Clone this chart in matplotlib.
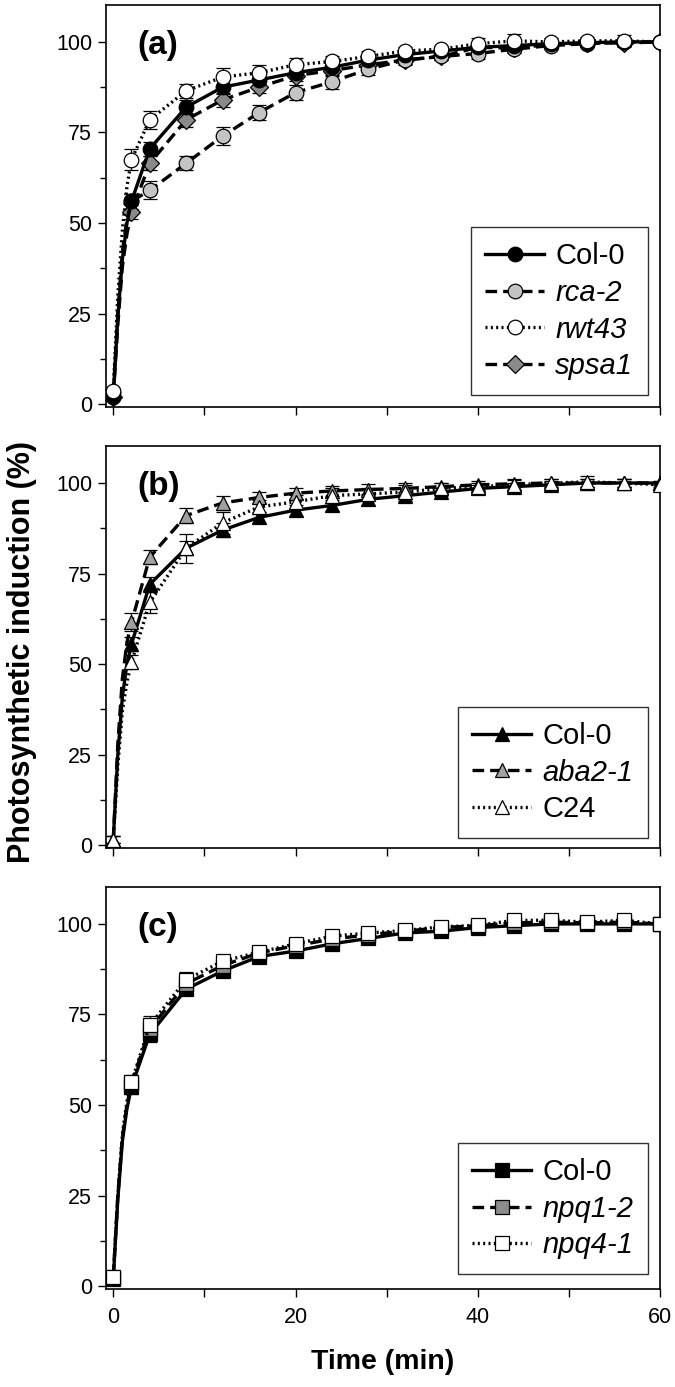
import numpy as np
import matplotlib
matplotlib.use("Agg")
import matplotlib.pyplot as plt

plt.rcParams['font.family'] = ['Liberation Sans', 'DejaVu Sans']

# sampling times of the markers (min) and a few extra trace points early on
t_mark = [0, 2, 4, 8, 12, 16, 20, 24, 28, 32, 36, 40, 44, 48, 52, 56, 60]
t_early = [0.5, 1.0, 1.5]

# panel (a)
a_col0 = [2, 56, 70.5, 82, 87.5, 89.5, 91.5, 93, 95, 96.5, 97.5, 98.5, 99, 99.5, 99.8, 100, 100]
a_col0_early = [24, 40, 50]
a_col0_err = [1, 2, 2, 2, 2, 1.5, 1.5, 1.5, 1.5, 1, 1, 1, 1, 1, 1, 1, 0.5]
a_rca2 = [3, 56, 59, 66.5, 74, 80.5, 86, 89, 92.5, 95, 96, 96.8, 98, 99, 99.5, 100, 100]
a_rca2_early = [25, 42, 51]
a_rca2_err = [1, 2, 2.5, 2, 2.5, 2, 2, 2, 1.5, 1.5, 1, 1.5, 1, 1, 1, 1, 0.5]
a_rwt43 = [3.5, 67.5, 78.5, 86.5, 90.3, 91.5, 93.7, 94.6, 96, 97.5, 98, 99.5, 100.3, 100, 100.3, 100.3, 100]
a_rwt43_early = [30, 48, 60]
a_rwt43_err = [1, 3, 2.5, 2, 2.5, 2, 2, 1.5, 1.5, 1, 1, 1.5, 2, 1, 1, 1.5, 0.5]
a_spsa1 = [2, 53, 66.5, 78.5, 84, 87.5, 90.7, 92.1, 93.7, 95, 96, 98.5, 98.3, 99.3, 99.7, 99.7, 100]
a_spsa1_early = [22, 38, 47]
a_spsa1_err = [1, 2, 2, 2, 2, 1.5, 1.5, 1.5, 1.5, 1, 1, 1, 1, 1, 1, 1, 0.5]

# panel (b)
b_col0 = [1.5, 55.5, 72, 82, 87, 90.5, 92.5, 93.8, 95.5, 96.5, 97.5, 98.5, 99, 99.5, 100, 100, 100]
b_col0_early = [25, 41, 50]
b_col0_err = [1, 2, 2, 2, 2, 1.5, 1.5, 1.5, 1.5, 1, 1, 1, 1, 1, 1, 1, 0.5]
b_aba21 = [1.5, 61.5, 79.5, 91, 94.5, 96, 97.2, 97.8, 98.2, 98.5, 99, 99.5, 99.8, 100, 100, 100, 100]
b_aba21_early = [28, 46, 56]
b_aba21_err = [1, 2.5, 2, 2, 2, 1.5, 1.5, 1.5, 1.5, 1, 1, 1, 1, 1, 1, 1, 0.5]
b_c24 = [1.5, 50.5, 67, 82, 89, 93.4, 94.8, 96.5, 97, 97.5, 98.5, 99, 99.5, 100, 100.3, 100, 99.5]
b_c24_early = [22, 37, 45]
b_c24_err = [1, 2, 3, 4, 3, 2, 2, 2, 1.5, 2.5, 1.5, 1, 1.5, 1, 1.5, 1, 0.5]

# panel (c)
c_col0 = [2, 55, 69.5, 82, 87, 91, 92.5, 94.5, 96, 97.5, 98, 99, 99.5, 100, 100, 100, 100]
c_col0_early = [24, 40, 49]
c_col0_err = [1, 2, 2, 1.5, 1.5, 1.5, 1.5, 1, 1, 1, 1, 1, 1, 1, 1, 1, 0.5]
c_npq12 = [2.5, 56, 71, 83.5, 88.5, 92, 94, 95.8, 97, 98, 99, 99.5, 100.3, 100.5, 100.3, 100.5, 100]
c_npq12_early = [25, 41, 50]
c_npq12_err = [1, 2, 2, 1.5, 1.5, 1.5, 1.5, 1, 1, 1, 1, 1, 1, 1, 1, 1, 0.5]
c_npq41 = [2.5, 56.3, 72, 84.6, 89.7, 92.2, 94.5, 96.6, 97.5, 98.2, 99.2, 99.6, 101, 101, 100.5, 101, 100]
c_npq41_early = [25, 42, 51]
c_npq41_err = [1, 2, 2.5, 2, 1.5, 1.5, 1.5, 1.5, 1, 1, 1, 1, 1, 1, 1, 1, 0.5]

fig = plt.figure(figsize=(6.75, 13.87), dpi=100)

left, width, height = 0.157, 0.821, 0.2898
bottoms = [0.7066, 0.3886, 0.0707]


def draw_series(ax, vals, early, err, label, ls, marker, face, ms=10.5):
    t_line = [t_mark[0]] + t_early + t_mark[1:]
    v_line = [vals[0]] + early + vals[1:]
    mark_idx = [0] + list(range(len(t_early) + 1, len(t_line)))
    kw = dict(color='black', lw=2.4, marker=marker, markersize=ms,
              markerfacecolor=face, markeredgecolor='black', markeredgewidth=0.9,
              markevery=mark_idx, label=label, zorder=3)
    if ls == 'dashed':
        kw['dashes'] = (3.5, 1.8)
    elif ls == 'dotted':
        kw['dashes'] = (0.6, 1.0)
    ax.errorbar(t_mark, vals, yerr=err, fmt='none', ecolor='black',
                elinewidth=0.9, capsize=5, capthick=0.9, zorder=2)
    ax.plot(t_line, v_line, **kw)


def style_axes(ax, letter, show_x):
    ax.set_xlim(-0.8, 60)
    ax.set_ylim(-0.8, 110.2)
    ax.set_yticks([0, 25, 50, 75, 100])
    ax.set_yticks([12.5, 37.5, 62.5, 87.5], minor=True)
    ax.set_xticks([0, 10, 20, 30, 40, 50, 60])
    if show_x:
        ax.set_xticklabels(['0', '', '20', '', '40', '', '60'])
    else:
        ax.set_xticklabels([])
    ax.tick_params(axis='both', which='major', direction='out', length=6,
                   width=1.0, labelsize=15.5, pad=4)
    ax.tick_params(axis='x', which='major', pad=7)
    ax.tick_params(axis='y', which='minor', direction='out', length=4, width=1.0)
    for sp in ax.spines.values():
        sp.set_linewidth(1.2)
    ax.text(0.056, 0.90, letter, transform=ax.transAxes, fontsize=24,
            fontweight='bold', va='center', ha='left')


def make_legend(ax, names, anchor, italic_idx):
    h, l = ax.get_legend_handles_labels()
    handles = [h[l.index(n)] for n in names]
    leg = ax.legend(handles, names, loc='lower right', bbox_to_anchor=anchor,
                    fontsize=21, frameon=True, fancybox=False, edgecolor='black',
                    handlelength=2.0, handletextpad=0.4, labelspacing=0.3,
                    borderpad=0.5, borderaxespad=0.0, numpoints=1)
    leg.get_frame().set_linewidth(1.0)
    for i in italic_idx:
        leg.get_texts()[i].set_fontstyle('italic')


ax_a = fig.add_axes([left, bottoms[0], width, height])
draw_series(ax_a, a_spsa1, a_spsa1_early, a_spsa1_err, 'spsa1', 'dashed', 'D', '#8a8a8a', 9.5)
draw_series(ax_a, a_rca2, a_rca2_early, a_rca2_err, 'rca-2', 'dashed', 'o', '#c4c4c4')
draw_series(ax_a, a_col0, a_col0_early, a_col0_err, 'Col-0', 'solid', 'o', 'black')
draw_series(ax_a, a_rwt43, a_rwt43_early, a_rwt43_err, 'rwt43', 'dotted', 'o', 'white')
style_axes(ax_a, '(a)', False)
make_legend(ax_a, ['Col-0', 'rca-2', 'rwt43', 'spsa1'], (0.978, 0.03), [1, 2, 3])

ax_b = fig.add_axes([left, bottoms[1], width, height])
draw_series(ax_b, b_col0, b_col0_early, b_col0_err, 'Col-0', 'solid', '^', 'black')
draw_series(ax_b, b_aba21, b_aba21_early, b_aba21_err, 'aba2-1', 'dashed', '^', '#a0a0a0')
draw_series(ax_b, b_c24, b_c24_early, b_c24_err, 'C24', 'dotted', '^', 'white')
style_axes(ax_b, '(b)', False)
make_legend(ax_b, ['Col-0', 'aba2-1', 'C24'], (0.978, 0.025), [1])

ax_c = fig.add_axes([left, bottoms[2], width, height])
draw_series(ax_c, c_col0, c_col0_early, c_col0_err, 'Col-0', 'solid', 's', 'black')
draw_series(ax_c, c_npq12, c_npq12_early, c_npq12_err, 'npq1-2', 'dashed', 's', '#8c8c8c')
draw_series(ax_c, c_npq41, c_npq41_early, c_npq41_err, 'npq4-1', 'dotted', 's', 'white')
style_axes(ax_c, '(c)', True)
make_legend(ax_c, ['Col-0', 'npq1-2', 'npq4-1'], (0.978, 0.037), [1, 2])

fig.text(0.033, 0.530, 'Photosynthetic induction (%)', rotation=90, fontsize=22,
         fontweight='bold', ha='center', va='center')
fig.text(0.567, 0.018, 'Time (min)', fontsize=20.5, fontweight='bold',
         ha='center', va='center')

fig.savefig('out.png', dpi=100)
